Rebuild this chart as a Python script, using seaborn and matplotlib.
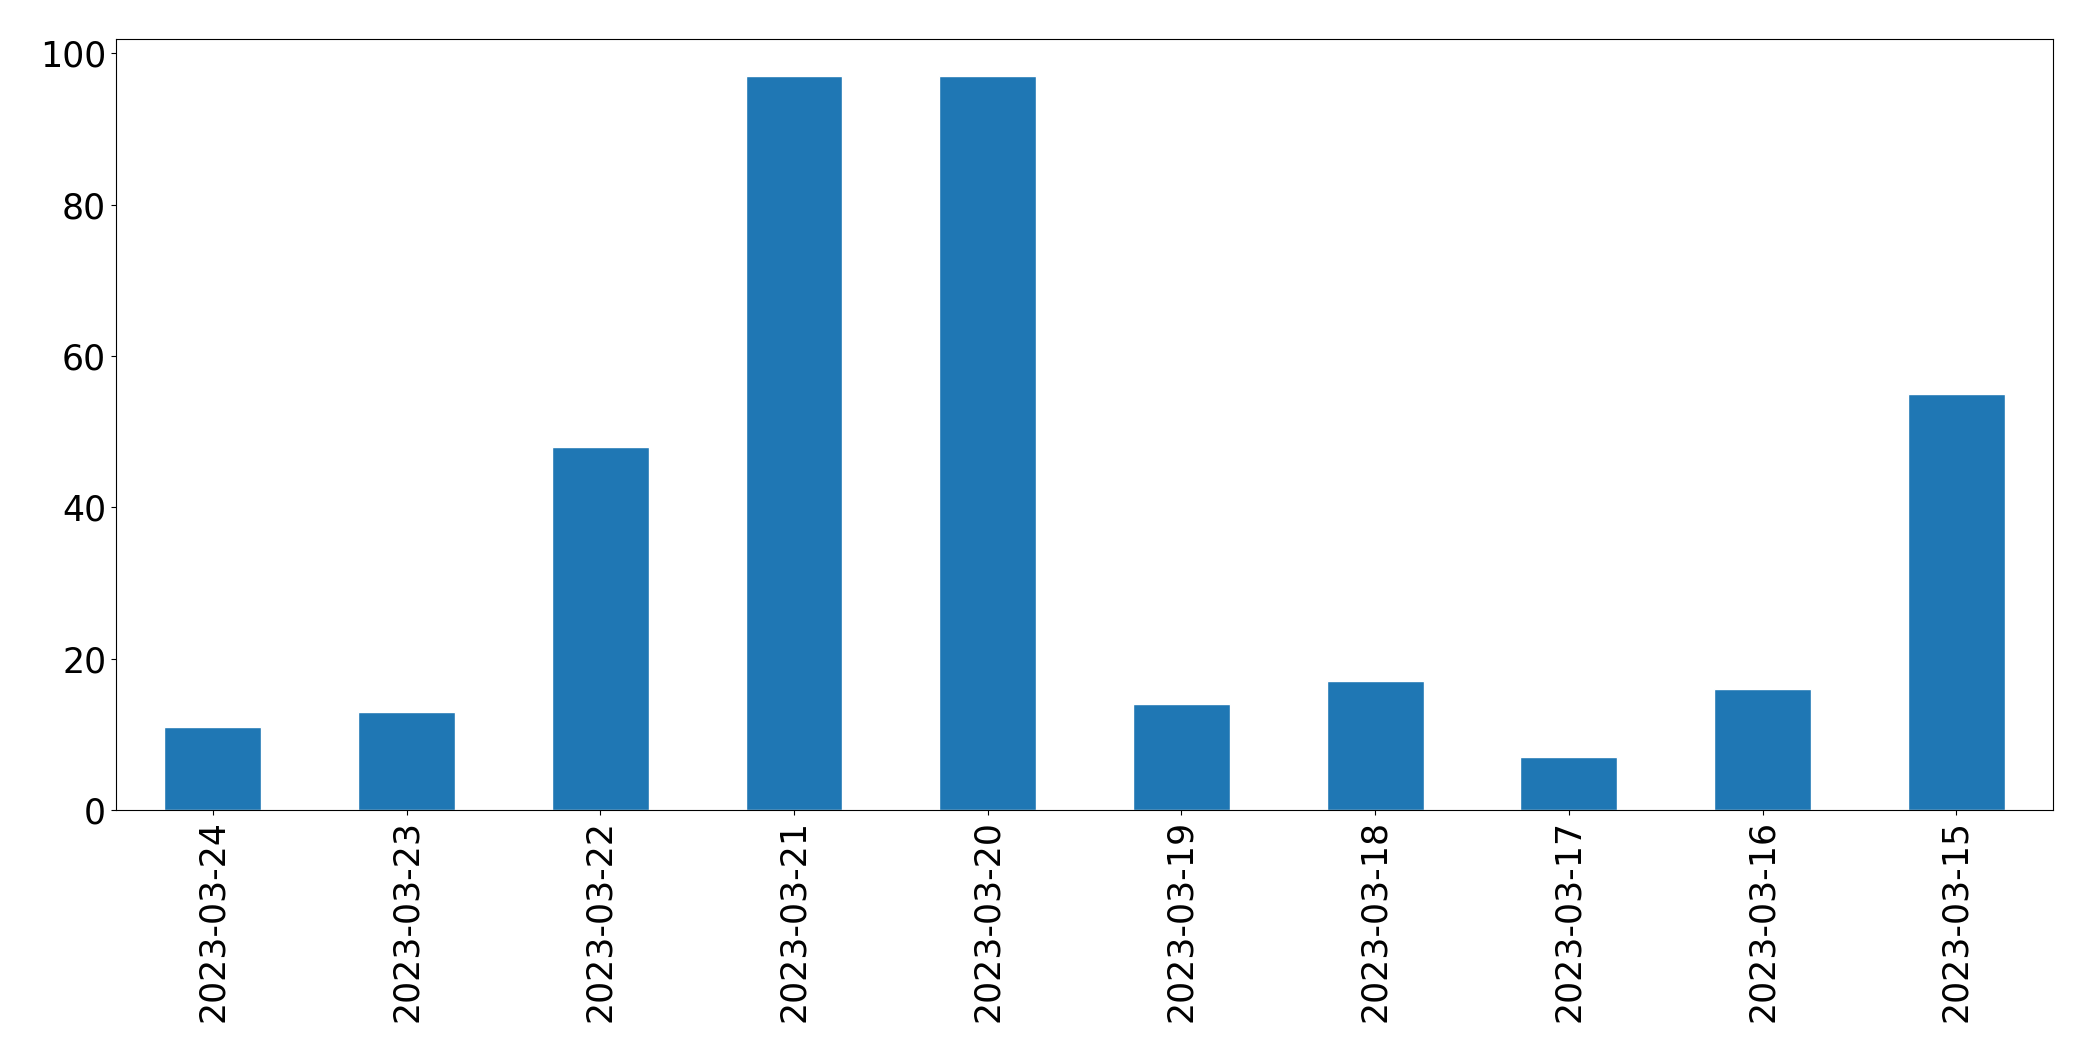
import pandas as pd
import matplotlib
matplotlib.use("Agg")
import matplotlib.pyplot as plt
import seaborn as sns

# Values per date
dates = ["2023-03-24", "2023-03-23", "2023-03-22", "2023-03-21", "2023-03-20",
         "2023-03-19", "2023-03-18", "2023-03-17", "2023-03-16", "2023-03-15"]
counts = [11, 13, 48, 97, 97, 14, 17, 7, 16, 55]

df = pd.DataFrame({"date": dates, "count": counts})

sns.set_theme(style="white")
plt.rcParams["font.family"] = ["DejaVu Sans"]
plt.rcParams["text.color"] = "black"
plt.rcParams["xtick.color"] = "black"
plt.rcParams["ytick.color"] = "black"
plt.rcParams["axes.edgecolor"] = "black"

fig, ax = plt.subplots(figsize=(20.93, 10.61), dpi=100)
sns.barplot(data=df, x="date", y="count", order=dates, color="#1f77b4",
            saturation=1, width=0.5, ax=ax)

ax.set_xlim(-0.5, len(dates) - 0.5)
ax.set_xlabel("")
ax.set_ylabel("")
ax.tick_params(axis="both", labelsize=25, length=3.5, width=0.8,
               bottom=True, left=True, colors="black")
plt.setp(ax.get_xticklabels(), rotation=90)
for s in ax.spines.values():
    s.set_color("black")
    s.set_linewidth(0.8)

plt.subplots_adjust(left=0.0554, right=0.981, top=0.963, bottom=0.2366)
plt.savefig("out.png", dpi=100)
